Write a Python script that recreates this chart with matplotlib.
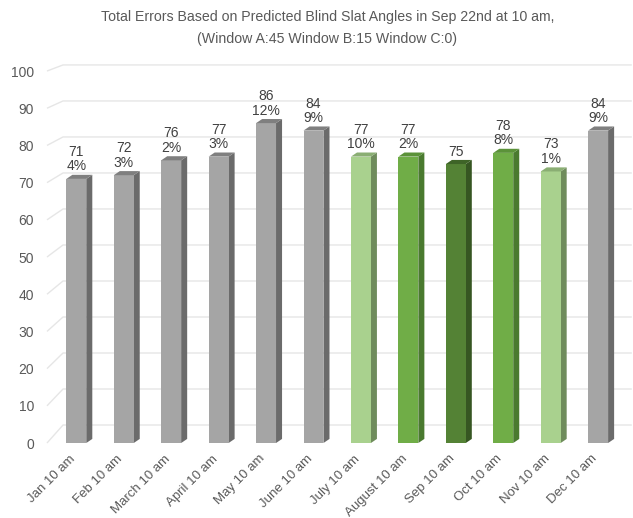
import matplotlib
matplotlib.use("Agg")
import matplotlib.pyplot as plt
from matplotlib.patches import Polygon
import matplotlib.transforms as mtransforms

# data
months = ["Jan 10 am", "Feb 10 am", "March 10 am", "April 10 am", "May 10 am", "June 10 am",
          "July 10 am", "August 10 am", "Sep 10 am", "Oct 10 am", "Nov 10 am", "Dec 10 am"]
errors = [71, 72, 76, 77, 86, 84, 77, 77, 75, 78, 73, 84]
pct_labels = ["4%", "3%", "2%", "3%", "12%", "9%", "10%", "2%", "", "8%", "1%", "9%"]
color_group = ["gray", "gray", "gray", "gray", "gray", "gray",
               "light", "mid", "dark", "mid", "light", "gray"]
yticks = [0, 10, 20, 30, 40, 50, 60, 70, 80, 90, 100]

# front / side / top colours for each group
palette = {
    "gray": ("#A5A5A5", "#6B6B6B", "#7F7F7F"),
    "light": ("#A9D18E", "#6F8C5C", "#8AAE73"),
    "mid": ("#70AD47", "#4A7A2F", "#5B9239"),
    "dark": ("#548235", "#365622", "#3E6427"),
}

plt.rcParams["font.family"] = ["Liberation Sans", "DejaVu Sans"]

fig = plt.figure(figsize=(6.33, 5.18), dpi=100)
ax = fig.add_axes([45 / 633, (518 - 448.6) / 518, 588 / 633, (448.6 - 63.6) / 518])
ax.set_xlim(-0.66, 11.735)
ax.set_ylim(-1.5, 102)

w = 0.42     # front face width
dx = 0.127   # depth offset in x
dy = 1.1     # depth offset in y

# back wall gridlines with a small slant at the left (3D floor look)
for v in yticks:
    g = 4.84 + 0.968 * v
    ax.plot([-0.618, -0.28, 11.71], [v, g, g], color="#E6E6E6", lw=1, zorder=0,
            solid_capstyle="butt")

x = list(range(len(months)))
fronts = [palette[c][0] for c in color_group]
ax.bar(x, errors, width=w, color=fronts, zorder=3, linewidth=0)

for i, (v, c) in enumerate(zip(errors, color_group)):
    front, side, top = palette[c]
    r = i + w / 2
    l = i - w / 2
    ax.add_patch(Polygon([(r, 0), (r + dx, dy), (r + dx, v + dy), (r, v)],
                         closed=True, facecolor=side, edgecolor="none", zorder=2))
    ax.add_patch(Polygon([(l, v), (l + dx, v + dy), (r + dx, v + dy), (r, v)],
                         closed=True, facecolor=top, edgecolor="none", zorder=4))
    label = f"{v}\n{pct_labels[i]}" if pct_labels[i] else f"{v}"
    ax.annotate(label, xy=(i, v + dy), xytext=(0, 1), textcoords="offset points",
                ha="center", va="bottom", fontsize=10, color="#404040",
                linespacing=1.05, zorder=5)

ax.set_yticks(yticks)
ax.set_yticklabels([str(t) for t in yticks])
ax.set_xticks(x)
ax.set_xticklabels(months, rotation=45, ha="right", rotation_mode="anchor")
ax.tick_params(axis="both", length=0, labelsize=9.5, colors="#595959")
ax.tick_params(axis="y", pad=8, labelsize=10)
ax.tick_params(axis="x", pad=3)
offset = mtransforms.ScaledTranslation(-7 / 100, 0, fig.dpi_scale_trans)
for lbl in ax.get_xticklabels():
    lbl.set_transform(lbl.get_transform() + offset)

for s in ax.spines.values():
    s.set_visible(False)

fig.text(0.517, 1 - 10 / 518,
         "Total Errors Based on Predicted Blind Slat Angles in Sep 22nd at 10 am,\n"
         "(Window A:45 Window B:15 Window C:0)",
         ha="center", va="top", fontsize=10.2, color="#595959", linespacing=1.75)

fig.savefig("out.png", dpi=100)
